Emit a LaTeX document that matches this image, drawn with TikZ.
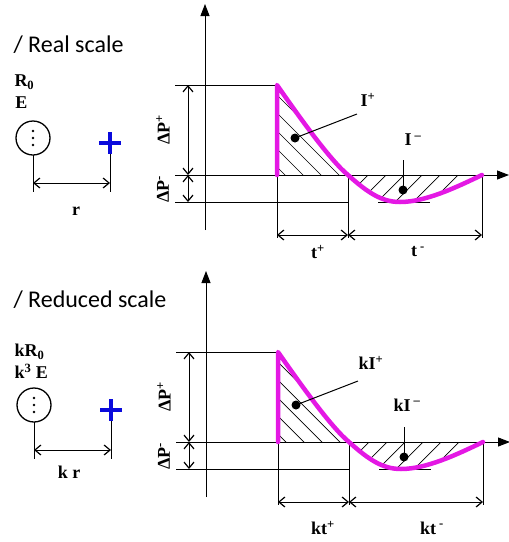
\documentclass[tikz,border=0pt]{standalone}
\usepackage{fontspec}
\setmainfont{Liberation Serif}
\newfontfamily\calfont{Carlito}
\usetikzlibrary{arrows.meta}
\definecolor{mag}{RGB}{228,24,228}
\definecolor{plusblue}{RGB}{10,10,220}
\begin{document}
\begin{tikzpicture}[x=1pt,y=-1pt,line width=1pt,
  dim/.style={{Straight Barb[length=6pt,width=10pt,line width=1.2pt]}-{Straight Barb[length=6pt,width=10pt,line width=1.2pt]}},
  axis/.style={-{Triangle[length=12pt,width=9pt]}},
  lbl/.style={font=\bfseries\fontsize{18}{18}\selectfont,inner sep=0pt},
  title/.style={font=\calfont\fontsize{24}{24}\selectfont,inner sep=0pt,anchor=west},
  curve/.style={mag,line width=4.5pt,line cap=round,line join=round},
  hatch/.style={line width=0.7pt}]
\useasboundingbox (0,0) rectangle (509,542);

\newcommand{\mypanel}{%
  % axes
  \coordinate (ytop) at (205,4);
  \coordinate (ybot) at (205,230);
  \coordinate (xl) at (175,175);
  \coordinate (xr) at (509,175);
  \draw[axis] (ybot) -- (ytop);
  \draw[axis] (xl) -- (xr);
  % key points
  \coordinate (A) at (277,85);
  \coordinate (B) at (277,175);
  \coordinate (C) at (348,175);
  \coordinate (D) at (400,202);
  \coordinate (F) at (482,175);
  % level lines
  \draw (175,85) -- (A);
  \draw (175,202) -- (348,202);
  \draw[dim] (188,85) -- (188,175);
  \draw[dim] (188,175) -- (188,202);
  % hatching
  \begin{scope}
    \clip (A) .. controls (300,118) and (330,160) .. (C) -- (B) -- cycle;
    \foreach \k in {185,203,...,365}{\draw[hatch] (\k,75) -- (\k+110,185);}
  \end{scope}
  \begin{scope}
    \clip (C) .. controls (368,193) and (382,202) .. (D) .. controls (425,202) and (455,188) .. (F) -- cycle;
    \foreach \k in {368,386,...,500}{\draw[hatch] (\k,175) -- (\k-40,215);}
  \end{scope}
  \draw (378,202) -- (430,202);
  % extension and time arrows
  \draw (B) -- (277,238);
  \draw (C) -- (348,238);
  \draw (F) -- (482,238);
  \draw[dim] (277,235) -- (348,235);
  \draw[dim] (348,235) -- (482,235);
  % curve
  \draw[curve] (B) -- (A) .. controls (300,118) and (330,160) .. (C)
     .. controls (368,193) and (382,202) .. (D)
     .. controls (425,202) and (455,188) .. (F);
  % centroids
  \fill (295,138) circle (4.5pt);
  \draw (295,138) -- (357,114);
  \fill (403,190) circle (4.5pt);
  \draw (403,190) -- (403,160);
  % left: source and point
  \draw[line width=1.3pt] (33,138) circle (17);
  \foreach \dy in {-7,0,7}{\fill (33,138+\dy) circle (1.4pt);}
  \draw (33,155) -- (33,192);
  \draw (110,153) -- (110,192);
  \draw[dim] (33,183) -- (110,183);
  \draw[plusblue,line width=3.4pt] (99,143) -- (121,143) (110,132) -- (110,154);
  % delta P labels
  \node[lbl,rotate=90] (dpp) at (163,130) {ΔP\textsuperscript{+}};
  \node[lbl,rotate=90] (dpm) at (163,189) {ΔP\textsuperscript{-}};
}

\begin{scope}
  \mypanel
  \node[title] (t1) at (13,45) {/ Real scale};
  \node[lbl,anchor=west] (r0) at (14,82) {R\textsubscript{0}};
  \node[lbl,anchor=west] (e) at (15,103) {E};
  \node[lbl] (r) at (76,211) {r};
  \node[lbl] (ip) at (368,100) {I\textsuperscript{+}};
  \node[lbl] (im) at (413,140) {I\textsuperscript{ –}};
  \node[lbl] (tp) at (318,252) {t\textsuperscript{+}};
  \node[lbl] (tm) at (418,252) {t\textsuperscript{ -}};
\end{scope}

\begin{scope}[shift={(1,267)}]
  \mypanel
\end{scope}
\node[title] (t2) at (13,300) {/ Reduced scale};
\node[lbl,anchor=west] (kr0) at (14,352) {kR\textsubscript{0}};
\node[lbl,anchor=west] (k3e) at (14,371) {k\textsuperscript{3} E};
\node[lbl] (kr) at (69,472) {k r};
\node[lbl] (kip) at (371,363) {kI\textsuperscript{+}};
\node[lbl] (kim) at (407,405) {kI\textsuperscript{ –}};
\node[lbl] (ktp) at (323,528) {kt\textsuperscript{+}};
\node[lbl] (ktm) at (432,528) {kt\textsuperscript{ -}};
\end{tikzpicture}
\end{document}
